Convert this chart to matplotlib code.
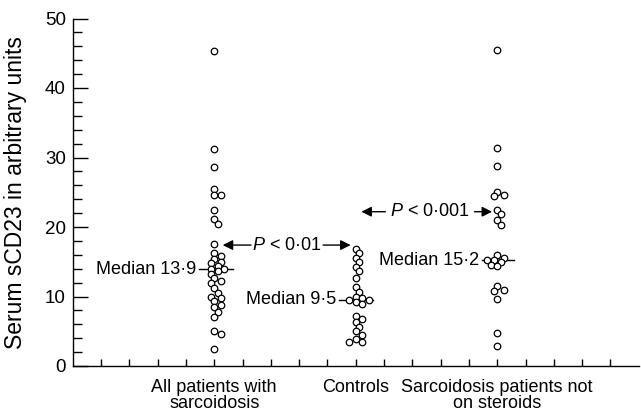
import matplotlib
matplotlib.use("Agg")
import matplotlib.pyplot as plt
import numpy as np

plt.rcParams['font.family'] = ['Liberation Sans', 'DejaVu Sans']
plt.rcParams['mathtext.fontset'] = 'custom'
plt.rcParams['mathtext.it'] = 'Liberation Sans:italic'
plt.rcParams['mathtext.rm'] = 'Liberation Sans'

# ---- data ----
categories = ["All patients with\nsarcoidosis", "Controls", "Sarcoidosis patients not\non steroids"]
cat_pos = [5, 10, 15]
all_patients = [45.3, 31.2, 28.7, 25.4, 24.6, 24.6, 22.5, 21.1, 20.5, 17.5, 16.3, 15.8,
                15.4, 15.0, 14.8, 14.4, 14.0, 13.9, 13.6, 13.2, 12.6, 12.2, 11.9, 11.2,
                10.5, 10.0, 9.8, 9.3, 8.8, 8.5, 7.8, 7.1, 5.0, 4.6, 2.5]
controls = [16.8, 16.2, 15.6, 14.9, 14.3, 13.7, 12.7, 11.3, 10.7, 10.0, 9.8, 9.5, 9.5,
            9.2, 8.9, 7.2, 6.8, 6.3, 5.6, 5.0, 4.5, 3.9, 3.4, 3.4]
not_steroids = [45.5, 31.3, 28.8, 25.1, 24.6, 24.4, 22.5, 21.8, 21.0, 20.3, 15.9, 15.6,
                15.2, 15.2, 15.0, 14.6, 14.4, 11.5, 11.0, 10.8, 9.7, 4.8, 2.9]
series = [all_patients, controls, not_steroids]
medians = [13.9, 9.5, 15.2]
median_labels = ["Median 13\u00b79", "Median 9\u00b75", "Median 15\u00b72"]
y_ticks = [0, 10, 20, 30, 40, 50]
p_labels = ["$\\it{P}$ < 0\u00b701", "$\\it{P}$ < 0\u00b7001"]

# ---- figure ----
W, H = 641, 416
fig = plt.figure(figsize=(W / 100, H / 100), dpi=100)
x0, x1, y0, y1 = 72.7, 638.7, 366.0, 18.5
ax = fig.add_axes([x0 / W, 1 - y0 / H, (x1 - x0) / W, (y0 - y1) / H])
ax.set_xlim(0, 20)
ax.set_ylim(0, 50)
PX = (x1 - x0) / 20.0
PY = (y0 - y1) / 50.0

def swarm(vals, d=6.6):
    placed = []
    order = np.argsort(vals)[::-1]
    res = np.zeros(len(vals))
    for i in order:
        yp = vals[i] * PY
        for k in [0, 1, -1, 2, -2, 3, -3, 4, -4]:
            xp = k * d * 0.5
            if all((xp - a) ** 2 + (yp - b) ** 2 >= (0.8 * d) ** 2 for a, b in placed):
                break
        placed.append((xp, yp))
        res[i] = xp / PX
    return res

for pos, vals in zip(cat_pos, series):
    vals = np.array(vals)
    xo = swarm(vals)
    ax.plot(pos + xo, vals, 'o', ms=4.7, mfc='white', mec='black', mew=0.9,
            linestyle='none', zorder=3)

# median lines and labels
med_span = [(4.45, 5.65), (9.4, 10.6), (14.45, 15.6)]
for (a, b), m, lab in zip(med_span, medians, median_labels):
    ax.plot([a, b], [m, m], color='black', lw=1.0, zorder=2)
    ax.text(a - 0.08, m, lab, ha='right', va='center', fontsize=13)

# P annotations
arrow_kw = dict(arrowstyle='-|>', color='black', lw=1.0, mutation_scale=15,
                shrinkA=0, shrinkB=0)
py1 = 17.4
ax.text(7.56, py1, p_labels[0], ha='center', va='center', fontsize=13)
ax.annotate('', xy=(5.3, py1), xytext=(6.3, py1), arrowprops=arrow_kw)
ax.annotate('', xy=(9.82, py1), xytext=(8.85, py1), arrowprops=arrow_kw)
py2 = 22.2
ax.text(12.62, py2, p_labels[1], ha='center', va='center', fontsize=13)
ax.annotate('', xy=(10.2, py2), xytext=(11.05, py2), arrowprops=arrow_kw)
ax.annotate('', xy=(14.82, py2), xytext=(14.2, py2), arrowprops=arrow_kw)

# axes styling
for s in ['top', 'right']:
    ax.spines[s].set_visible(False)
for s in ['left', 'bottom']:
    ax.spines[s].set_linewidth(1.0)

ax.set_yticks(y_ticks)
ax.set_yticks(np.arange(0, 51, 2), minor=True)
ax.tick_params(axis='y', which='major', direction='in', length=11, width=1.0,
               labelsize=13.5, pad=5)
ax.tick_params(axis='y', which='minor', direction='in', length=6.5, width=1.0)

xt = list(range(1, 20))
ax.set_xticks(xt)
ax.set_xticklabels([categories[cat_pos.index(t)] if t in cat_pos else '' for t in xt],
                   fontsize=13, linespacing=1.0)
ax.tick_params(axis='x', which='major', direction='in', length=5, width=1.0, pad=9)

ax.set_ylabel("Serum sCD23 in arbitrary units", fontsize=16.5)
ax.yaxis.set_label_coords(-46 / (x1 - x0), 0.5)

fig.savefig("out.png", dpi=100)
